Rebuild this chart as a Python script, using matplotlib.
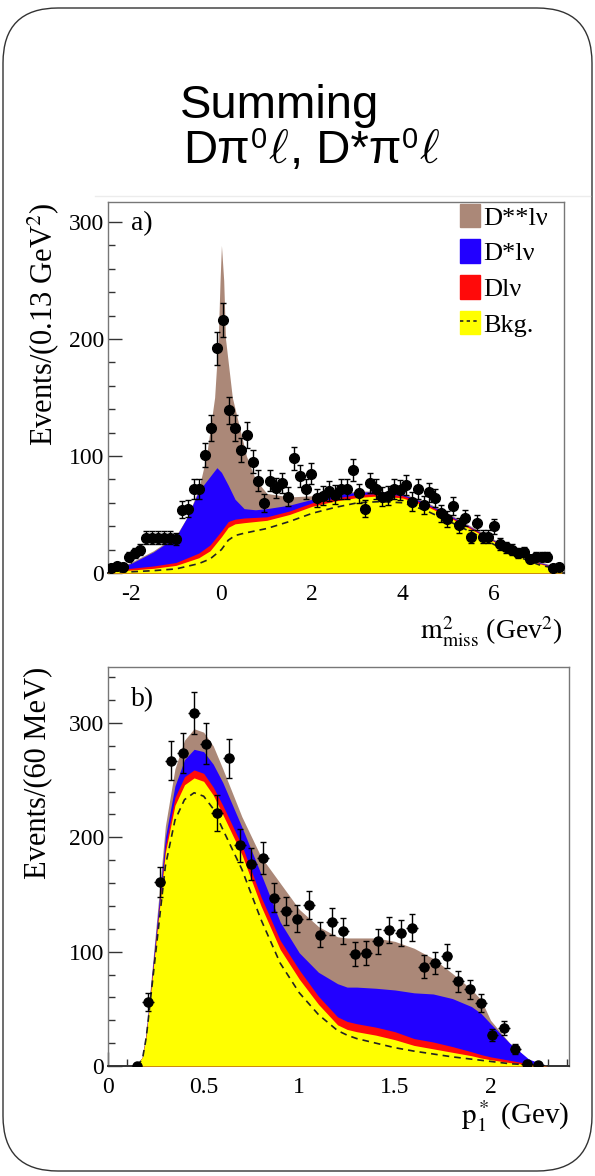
import numpy as np
import matplotlib
matplotlib.use('Agg')
import matplotlib.pyplot as plt
from matplotlib.patches import Patch, FancyBboxPatch
from matplotlib.lines import Line2D
from matplotlib.ticker import MultipleLocator, FuncFormatter
from matplotlib.legend_handler import HandlerTuple

plt.rcParams['font.family'] = ['Liberation Serif', 'DejaVu Serif']
plt.rcParams['axes.unicode_minus'] = False

BROWN = '#ab8878'
BLUE = '#2200ff'
RED = '#ff0a0a'
YELLOW = '#ffff00'

# ---- panel a: m2_miss, bins of 0.13 GeV^2 starting at -2.5
a_lo, a_bin = -2.5, 0.13
a_counts = [4, 6, 5, 14, 17, 20, 30, 30, 30, 30, 30, 29, 54, 55, 72, 72, 101, 124, 192, 216,
            139, 124, 105, 118, 95, 79, 60, 79, 73, 77, 65, 98, 83, 72, 85, 64, 66, 70, 67, 72,
            72, 88, 68, 55, 77, 72, 65, 66, 72, 71, 75, 61, 72, 58, 69, 64, 51, 46, 57, 41,
            47, 31, 43, 31, 31, 40, 25, 22, 20, 17, 18, 12, 14, 14, 14, 4, 5]

a_tot_x = [-2.5, -2.0, -1.5, -1.0, -0.75, -0.5, -0.33, -0.15, -0.07, -0.03, 0.0, 0.05, 0.09, 0.24,
           0.55, 0.75, 1.0, 1.5, 2.0, 2.5, 3.0, 3.5, 4.0, 4.5, 5.0, 5.5, 6.0, 6.5, 7.0, 7.5]
a_tot_y = [3, 9, 19, 32, 48, 72, 100, 150, 200, 250, 280, 250, 200, 150,
           100, 80, 68, 65, 66, 68, 70, 70, 68, 61, 51, 40, 29, 18, 10, 4]
a_dst_x = [-2.5, -2.0, -1.5, -1.0, -0.75, -0.5, -0.3, -0.1, 0.0, 0.15, 0.3, 0.5, 0.75, 1.0,
           1.5, 2.0, 2.5, 3.0, 3.5, 4.0, 4.5, 5.0, 5.5, 6.0, 6.5, 7.0, 7.5]
a_dst_y = [3, 8, 18, 31, 48, 70, 80, 90, 86, 75, 63, 55, 54, 55,
           58, 63, 67, 69, 69.5, 67, 60, 50, 39, 28, 17, 9, 4]
a_x = [-2.5, -2.0, -1.5, -1.0, -0.5, -0.25, 0.0, 0.15, 0.3, 0.5, 1.0, 1.5, 2.0, 2.5,
       3.0, 3.5, 4.0, 4.5, 5.0, 5.5, 6.0, 6.5, 7.0, 7.5]
a_dlv_y = [2, 4, 6, 9, 17, 24, 36, 44, 46, 47, 48, 53, 60, 64,
           67, 68, 66, 59, 49, 38.5, 27.5, 16.5, 8.5, 3.5]
a_yel_y = [1.5, 2.5, 4, 6.5, 13, 19, 31, 39, 42, 43, 45, 50, 57, 61.5,
           64.5, 66, 64, 57.5, 48, 37.5, 27, 16, 8, 3]
a_bkg_y = [0.5, 1, 2, 3.5, 8, 12, 20, 28, 32, 34, 38, 44, 51, 56,
           60, 61, 60, 53.5, 44.5, 35, 24.5, 14.5, 7, 2.5]

# ---- panel b: p*_l, bins of 60 MeV
b_lo, b_bin = 0.12, 0.06
b_counts = [0, 56, 161, 267, 274, 309, 282, 221, 269, 193, 177, 182, 147, 136, 129, 141, 115, 126,
            118, 98, 99, 109, 119, 116, 121, 87, 90, 96, 74, 67, 55, 27, 33, 15, 2, 1]

b_x = [0.15, 0.18, 0.2, 0.25, 0.3, 0.35, 0.4, 0.45, 0.5, 0.55, 0.6, 0.7, 0.8, 0.9, 1.0,
       1.1, 1.2, 1.25, 1.3, 1.4, 1.5, 1.6, 1.7, 1.8, 1.9, 1.95, 2.0, 2.1, 2.2, 2.3]
b_tot_y = [0, 8, 30, 120, 210, 260, 285, 295, 292, 280, 260, 218, 183, 160, 137,
           122, 113, 112, 112, 112, 109, 103, 94, 81, 67, 58, 40, 20, 5, 0]
b_dst_y = [0, 8, 29, 115, 200, 245, 268, 277, 275, 264, 248, 209, 168, 126, 99,
           82, 72, 69, 69, 68, 66.5, 64, 63, 59, 52, 46, 37, 20, 6, 0]
b_dlv_y = [0, 8, 28, 110, 192, 235, 253, 259, 256, 244, 228, 193, 148, 110, 84,
           61, 43, 39, 37, 34, 30, 24, 21, 17, 12.5, 10, 8, 5, 2, 0]
b_yel_y = [0, 8, 27, 107, 187, 228, 246, 252, 249, 237, 220, 185, 140, 102, 76,
           54, 36, 32, 30, 27, 23, 18, 15, 12, 9, 7, 5.5, 3, 1, 0]
b_bkg_y = [0, 6, 25, 100, 175, 215, 233, 239, 236, 225, 207, 172, 128, 90, 64,
           45, 31, 27, 24, 20, 16, 13, 10.5, 8, 6, 5, 4, 2, 1, 0]

legend_labels = ['D**lν', 'D*lν', 'Dlν', 'Bkg.']

W, H = 595, 1176
fig = plt.figure(figsize=(W / 100, H / 100), dpi=100)

# rounded slide frame, drawn in pixel units
bg = fig.add_axes([0, 0, 1, 1], zorder=-5)
bg.set_xlim(0, W)
bg.set_ylim(H, 0)
bg.axis('off')
bg.add_patch(FancyBboxPatch((3, 8), 589, 1163, boxstyle='round,pad=0,rounding_size=55',
                            fc='white', ec='#333333', lw=1.0))
bg.plot([95, 590], [196, 196], color='#ececec', lw=1.0)

fig.text(180 / W, 1 - 118 / H, 'Summing', family='Liberation Sans', fontsize=34, va='baseline')

# second title line built from pieces: sans text, small raised "0", script ell
renderer = fig.canvas.get_renderer()
sans = dict(family='Liberation Sans', fontsize=34)
sup = dict(family='Liberation Sans', fontsize=21)
ell = dict(fontsize=34, math_fontfamily='cm')
pieces = [('Dπ', sans, 0), ('0', sup, 15), (r'$\ell$', ell, 0), (', D*π', sans, 0),
          ('0', sup, 15), (r'$\ell$', ell, 0)]
xpos = 183
for s, kw, dy in pieces:
    t = fig.text(xpos / W, 1 - (163 - dy) / H, s, va='baseline', ha='left', **kw)
    xpos = t.get_window_extent(renderer).x1 + 1


def style_axes(ax, xmaj, xmin, ymaj, ymin):
    ax.xaxis.set_major_locator(MultipleLocator(xmaj))
    ax.xaxis.set_minor_locator(MultipleLocator(xmin))
    ax.yaxis.set_major_locator(MultipleLocator(ymaj))
    ax.yaxis.set_minor_locator(MultipleLocator(ymin))
    ax.tick_params(which='both', direction='in', top=False, right=False, labelsize=17,
                   color='#333333')
    ax.tick_params(which='major', length=10, width=1.0)
    ax.tick_params(which='minor', length=5, width=1.0)
    ax.tick_params(axis='x', pad=8)
    ax.tick_params(axis='y', pad=3)
    for s in ax.spines.values():
        s.set_color('#777777')
        s.set_linewidth(1.0)
    ax.spines['bottom'].set_color('#333333')
    ax.spines['bottom'].set_linewidth(1.4)


def draw_stack(ax, xt, tot, xd, dst, xs, dlv, yel, bkg):
    ax.fill_between(xt, 0, tot, color=BROWN, lw=0, zorder=1)
    ax.fill_between(xd, 0, dst, color=BLUE, lw=0, zorder=2)
    ax.fill_between(xs, 0, dlv, color=RED, lw=0, zorder=3)
    ax.fill_between(xs, 0, yel, color=YELLOW, lw=0, zorder=4)
    ax.plot(xs, bkg, color='#222222', ls=(0, (4, 3)), lw=1.2, zorder=5)


# ---- panel a
ax1 = fig.add_axes([108 / W, 1 - 573 / H, 456 / W, 371 / H])
draw_stack(ax1, a_tot_x, a_tot_y, a_dst_x, a_dst_y, a_x, a_dlv_y, a_yel_y, a_bkg_y)
na = np.array(a_counts, dtype=float)
xa = a_lo + a_bin * (np.arange(len(na)) + 0.5)
ax1.errorbar(xa, na, yerr=np.sqrt(na), fmt='o', ms=7, color='black', ecolor='black',
             elinewidth=1.0, capsize=2.5, capthick=1.0, zorder=6)
ax1.set_xlim(-2.5, 7.55)
ax1.set_ylim(0, 317)
style_axes(ax1, 2, 0.4, 100, 20)
ax1.set_ylabel('Events/(0.13 GeV$^2$)', fontsize=22, math_fontfamily='stix')
ax1.yaxis.set_label_coords(-0.1425, 1.0)
ax1.yaxis.label.set_ha('right')
ax1.yaxis.label.set_va('center')
ax1.set_xlabel(r'$\mathrm{m}^2_{\mathrm{miss}}$ (Gev$^2$)', fontsize=20, math_fontfamily='stix')
ax1.xaxis.set_label_coords(0.996, -0.18)
ax1.xaxis.label.set_ha('right')
ax1.xaxis.label.set_va('baseline')
ax1.text(0.05, 0.975, 'a)', transform=ax1.transAxes, fontsize=20, va='top')

handles = [Patch(color=BROWN), Patch(color=BLUE), Patch(color=RED),
           (Patch(color=YELLOW), Line2D([], [], color='#222222', ls=(0, (2, 2)), lw=1.2))]
ax1.legend(handles, legend_labels, loc='upper left', bbox_to_anchor=(0.772, 0.995),
           frameon=False, fontsize=19, handlelength=0.76, handleheight=1.0,
           handletextpad=0.1, labelspacing=0.37, borderpad=0, borderaxespad=0,
           handler_map={tuple: HandlerTuple(ndivide=1)})

# ---- panel b
ax2 = fig.add_axes([108 / W, 1 - 1066 / H, 461 / W, 399 / H])
draw_stack(ax2, b_x, b_tot_y, b_x, b_dst_y, b_x, b_dlv_y, b_yel_y, b_bkg_y)
nb = np.array(b_counts, dtype=float)
xb = b_lo + b_bin * (np.arange(len(nb)) + 0.5)
ax2.errorbar(xb, nb, yerr=np.sqrt(nb) * 1.05, fmt='o', ms=6.5, color='black', ecolor='black',
             elinewidth=1.0, capsize=2.5, capthick=1.0, zorder=6)
ax2.errorbar(xb, nb, xerr=b_bin / 2, fmt='none', ecolor='black', elinewidth=1.0, zorder=6)
ax2.set_xlim(0, 2.41)
ax2.set_ylim(0, 349)
style_axes(ax2, 0.5, 0.1, 100, 20)
ax2.xaxis.set_major_formatter(FuncFormatter(lambda v, p: f'{v:g}'))
ax2.set_ylabel('Events/(60 MeV)', fontsize=22)
ax2.yaxis.set_label_coords(-0.152, 1.0)
ax2.yaxis.label.set_ha('right')
ax2.yaxis.label.set_va('center')
ax2.set_xlabel(r'$\mathrm{p}^*_1$ (Gev)', fontsize=21, math_fontfamily='stix')
ax2.xaxis.set_label_coords(1.0, -0.145)
ax2.xaxis.label.set_ha('right')
ax2.xaxis.label.set_va('baseline')
ax2.text(0.05, 0.95, 'b)', transform=ax2.transAxes, fontsize=20, va='top')

fig.savefig('out.png', dpi=100)
